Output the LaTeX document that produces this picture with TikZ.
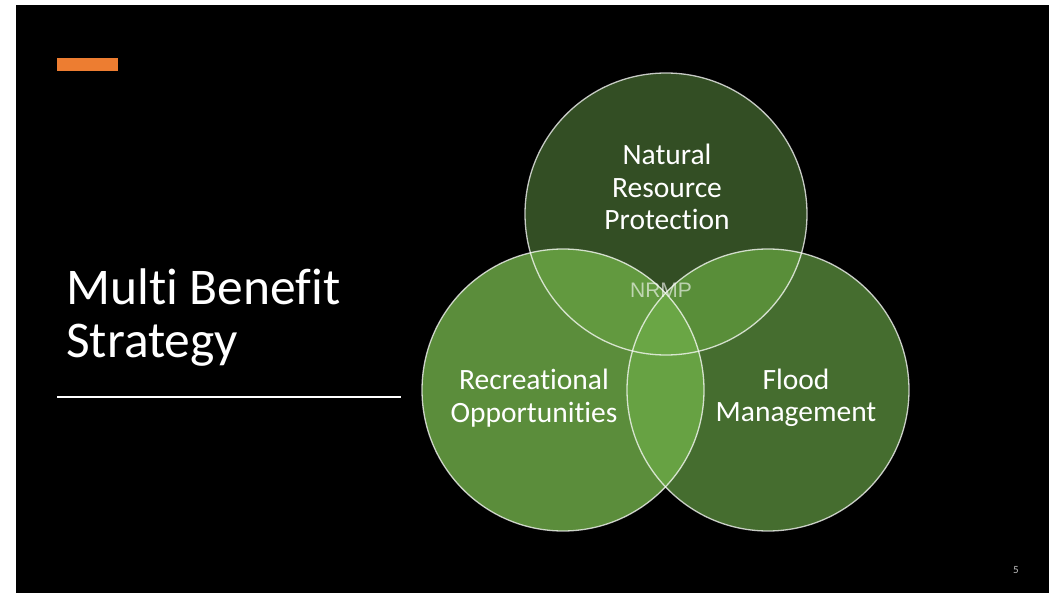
\documentclass[tikz,border=0pt]{standalone}
\usepackage{fontspec}
\setmainfont{Carlito}[Ligatures=NoCommon]
\newfontfamily\nrmpfont{Liberation Sans}
\usetikzlibrary{calc}
\definecolor{SlideOrange}{HTML}{ED7D31}
\definecolor{GreenTop}{HTML}{334E24}
\definecolor{GreenLeft}{HTML}{5B8D3B}
\definecolor{GreenRight}{HTML}{456D2F}
\definecolor{GreenTL}{HTML}{62993F}
\definecolor{GreenTR}{HTML}{598E39}
\definecolor{GreenLR}{HTML}{67A243}
\definecolor{GreenAll}{HTML}{6AA645}
\newcommand{\vennrad}{141pt}

\tikzset{
  ring/.style={draw=white, draw opacity=0.75, line width=1.3pt},
  circlelabel/.style={text=white, align=center, inner sep=0pt,
                      font=\fontsize{29.5}{32.5}\selectfont},
  titletext/.style={text=white, anchor=base west, inner sep=0pt,
                    font=\fontsize{51.5}{53}\selectfont}
}

\begin{document}
\begin{tikzpicture}[x=1pt, y=-1pt]
  \useasboundingbox (0,0) rectangle (1049,593);
  \fill[white] (0,0) rectangle (1049,593);
  \fill[black] (16,5) rectangle (1049,593);

  % accent bar and title
  \fill[SlideOrange] (57,58) rectangle (118,71);
  \node[titletext] (titleA) at (66,305) {Multi Benefit};
  \node[titletext] (titleB) at ($(titleA.base west)+(0,53)$) {Strategy};
  \coordinate (ruleL) at (57,397);
  \coordinate (ruleR) at (401,397);
  \draw[white, line width=1.5pt] (ruleL) -- (ruleR);

  % venn circles
  \coordinate (top) at (666,214);
  \coordinate (left) at (563,390);
  \coordinate (right) at (768,390);
  \fill[GreenTop] (top) circle[radius=\vennrad];
  \fill[GreenLeft] (left) circle[radius=\vennrad];
  \fill[GreenRight] (right) circle[radius=\vennrad];
  \begin{scope}
    \clip (left) circle[radius=\vennrad];
    \fill[GreenLR] (right) circle[radius=\vennrad];
  \end{scope}
  \begin{scope}
    \clip (top) circle[radius=\vennrad];
    \fill[GreenTL] (left) circle[radius=\vennrad];
    \fill[GreenTR] (right) circle[radius=\vennrad];
    \clip (left) circle[radius=\vennrad];
    \fill[GreenAll] (right) circle[radius=\vennrad];
  \end{scope}
  \draw[ring] (top) circle[radius=\vennrad];
  \draw[ring] (left) circle[radius=\vennrad];
  \draw[ring] (right) circle[radius=\vennrad];

  % labels
  \node[circlelabel] (natural) at (667,187) {Natural\\Resource\\Protection};
  \node[circlelabel] (recreation) at (534,398) {Recreational\\Opportunities};
  \node[circlelabel] (flood) at (796,398) {Flood\\Management};
  \node[text=white, text opacity=0.6, anchor=base, inner sep=0pt,
        font=\nrmpfont\fontsize{21}{21}\selectfont] (nrmp) at (661,298) {NRMP};

  \node[text=white!75!black, inner sep=0pt, font=\fontsize{11}{11}\selectfont]
    (pagenum) at (1016,570) {5};
\end{tikzpicture}
\end{document}
